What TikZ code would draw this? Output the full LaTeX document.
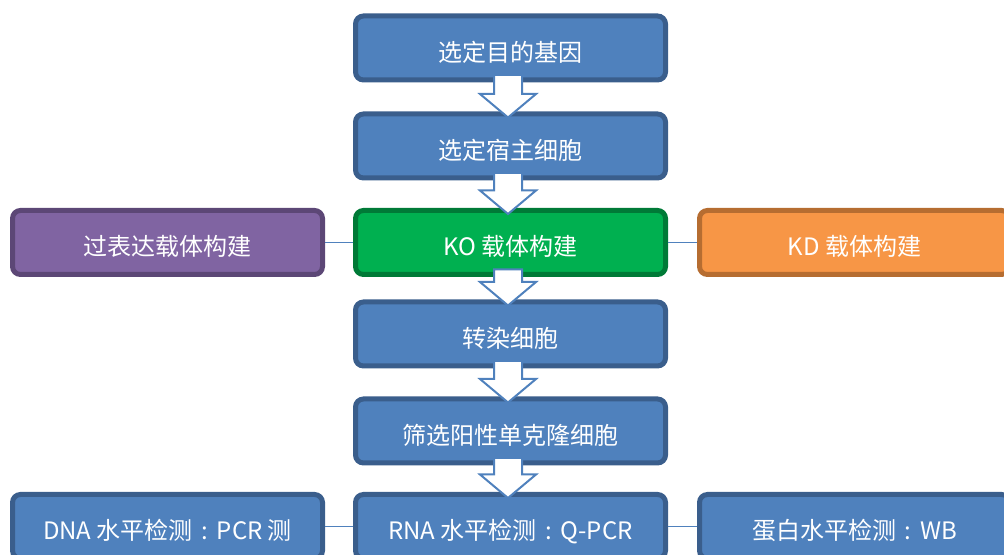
\documentclass[tikz,border=0pt]{standalone}
\usepackage{fontspec}
\newfontfamily\cjk{Noto Sans CJK SC}
\definecolor{blaufill}{HTML}{4F81BD}
\definecolor{blaurand}{HTML}{3A5E8C}
\definecolor{gruenfill}{HTML}{00B050}
\definecolor{gruenrand}{HTML}{007A37}
\definecolor{lilafill}{HTML}{8064A2}
\definecolor{lilarand}{HTML}{5C4776}
\definecolor{orangefill}{HTML}{F79646}
\definecolor{orangerand}{HTML}{B66D31}
\def\s{0.75pt}
\def\doppelpkt{\makebox[1em]{:}}

\begin{document}
\begin{tikzpicture}[x=\s,y=-\s,
  kasten/.style={draw,rounded corners=6pt,line width=3.75pt,minimum width=232.5pt,
    minimum height=48pt,inner sep=0pt,text height=21.6pt,text depth=1.8pt,
    text=white,font=\cjk\fontsize{18}{18}\selectfont},
  blau/.style={kasten,fill=blaufill,draw=blaurand},
  gruen/.style={kasten,fill=gruenfill,draw=gruenrand},
  lila/.style={kasten,fill=lilafill,draw=lilarand},
  orangekasten/.style={kasten,fill=orangefill,draw=orangerand},
  pfeil/.style={draw=blaufill,fill=white,line width=1.5pt,line join=miter},
  linie/.style={draw=blaufill,line width=1.2pt}]
\clip (0,0) rectangle (1004,555);
\node[blau] (gen) at (510.5,48) {选定目的基因};
\node[blau] (wirt) at (510.5,146) {选定宿主细胞};
\node[gruen] (ko) at (510.5,242.5) {KO 载体构建};
\node[lila] (ueber) at (167.5,242.5) {过表达载体构建};
\node[orangekasten] (kd) at (854.5,242.5) {KD 载体构建};
\node[blau] (transf) at (510.5,334) {转染细胞};
\node[blau] (screen) at (510.5,431) {筛选阳性单克隆细胞};
\node[blau] (rna) at (510.5,526.5) {RNA 水平检测\doppelpkt Q-PCR};
\node[blau] (dna) at (167.5,526.5) {DNA 水平检测\doppelpkt PCR 测};
\node[blau] (wb) at (854.5,526.5) {蛋白水平检测\doppelpkt WB};
\draw[linie] (ueber.east) -- (ko.west);
\draw[linie] (ko.east) -- (kd.west);
\draw[linie] (dna.east) -- (rna.west);
\draw[linie] (rna.east) -- (wb.west);
\foreach \a/\b in {gen/wirt,wirt/ko,ko/transf,transf/screen,screen/rna}{
	\draw[pfeil] ([shift={(-16.5,-7.5)}]\a.south) -- ([shift={(-16.5,-17.5)}]\b.north)
		-- ([shift={(-30.5,-17.5)}]\b.north) -- ([shift={(-2.5,6)}]\b.north)
		-- ([shift={(25.5,-17.5)}]\b.north) -- ([shift={(11.5,-17.5)}]\b.north)
		-- ([shift={(11.5,-7.5)}]\a.south) -- cycle;
}
\end{tikzpicture}
\end{document}
